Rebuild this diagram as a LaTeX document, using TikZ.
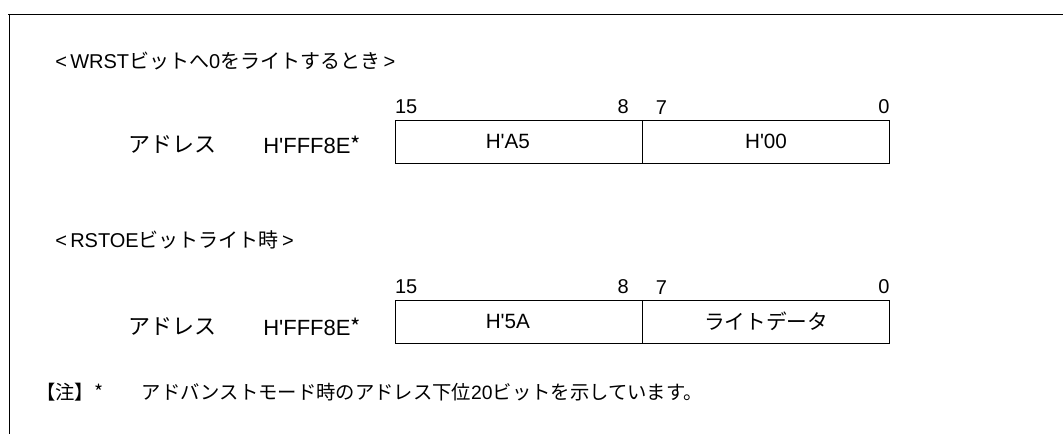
\documentclass[tikz,border=0pt]{standalone}
\usepackage{fontspec}
\setmainfont{Liberation Sans}[Ligatures=TeXOff]
\newfontfamily\jp{Noto Sans CJK JP}
\usetikzlibrary{positioning}

\begin{document}
\begin{tikzpicture}[x=0.75pt,y=-0.75pt,
    every node/.style={font=\fontsize{15}{18}\selectfont,inner sep=0pt},
    adr/.style={anchor=west,font=\fontsize{16.5}{19}\selectfont},
    cell/.style={draw,thin,minimum width=185.25pt,minimum height=32.25pt,font=\fontsize{15.5}{18}\selectfont},
    bitnum/.style={inner sep=1pt}]
    \useasboundingbox (0,0) rectangle (1063,434);
    \draw[thin] (8,14) -- (1063,14);
    \draw[thin] (9,14) -- (9,434);

    \node[anchor=west] (head1) at (55,61) {<\,WRST{\jp ビットへ}0{\jp をライトするとき}\,>};
    \node[adr] (adr1) at (128,145) {\jp アドレス};
    \node[adr] (val1) at (263,145) {H'FFF8E{\jp *}};
    \node[cell] (hi1) at (518.5,141.5) {H'A5\hspace*{16pt}};
    \node[cell,right=0pt of hi1] (lo1) {H'00};
    \node[bitnum,above right=3pt and -1pt of hi1.north west] (b15a) {15};
    \node[bitnum,above left=3pt and 9pt of hi1.north east] (b8a) {8};
    \node[bitnum,above right=3pt and 9pt of lo1.north west] (b7a) {7};
    \node[bitnum,above left=3pt and -1pt of lo1.north east] (b0a) {0};

    \node[anchor=west] (head2) at (55,240) {<\,RSTOE{\jp ビットライト時}\,>};
    \node[adr] (adr2) at (128,327) {\jp アドレス};
    \node[adr] (val2) at (263,327) {H'FFF8E{\jp *}};
    \node[cell] (hi2) at (518.5,321.5) {H'5A\hspace*{16pt}};
    \node[cell,right=0pt of hi2] (lo2) {\jp ライトデータ};
    \node[bitnum,above right=3pt and -1pt of hi2.north west] (b15b) {15};
    \node[bitnum,above left=3pt and 9pt of hi2.north east] (b8b) {8};
    \node[bitnum,above right=3pt and 9pt of lo2.north west] (b7b) {7};
    \node[bitnum,above left=3pt and -1pt of lo2.north east] (b0b) {0};

    \node[anchor=west,font=\fontsize{14.5}{17}\selectfont] (note) at (36,392) {{\jp 【注】*}\hspace{2em}{\jp アドバンストモード時のアドレス下位}20{\jp ビットを示しています。}};
\end{tikzpicture}
\end{document}
